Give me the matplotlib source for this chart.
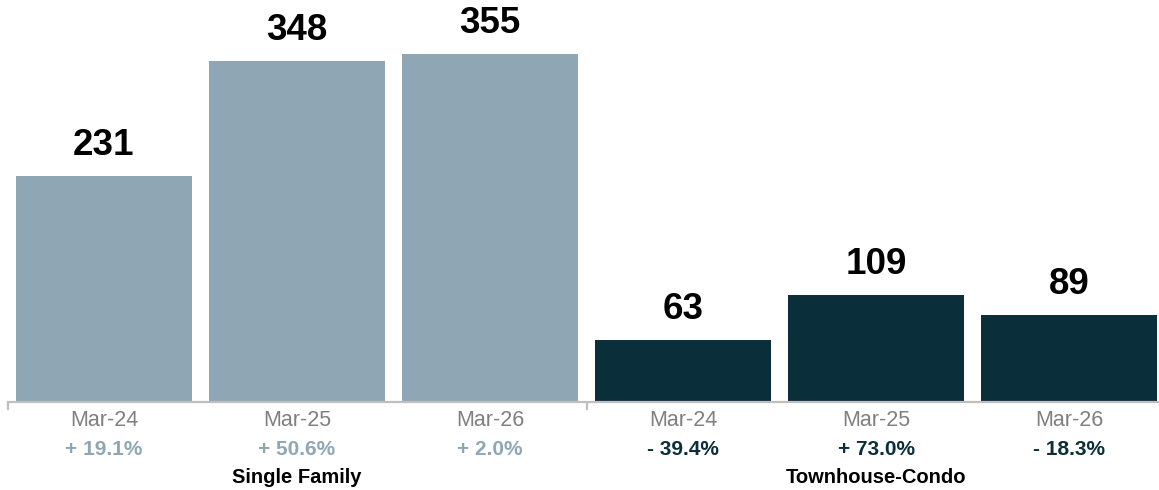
import matplotlib.pyplot as plt
from matplotlib.transforms import blended_transform_factory

plt.rcParams["font.family"] = ["Liberation Sans", "DejaVu Sans"]

# data
months = ["Mar-24", "Mar-25", "Mar-26", "Mar-24", "Mar-25", "Mar-26"]
values = [231, 348, 355, 63, 109, 89]
changes = ["+ 19.1%", "+ 50.6%", "+ 2.0%", "- 39.4%", "+ 73.0%", "- 18.3%"]
groups = ["Single Family", "Townhouse-Condo"]
group_of_bar = [0, 0, 0, 1, 1, 1]

LIGHT = "#8fa7b5"
DARK = "#0a2f3a"
AXIS_GREY = "#bfbfbf"
colors = [LIGHT, DARK]

W, H = 1159, 490
fig = plt.figure(figsize=(W / 100, H / 100), dpi=100)
# axes in pixel terms: baseline at y=402, slot 0 starts at x=7.5, pitch 193 px
left_px, base_px, pitch = 7.5, 402, 193
n = len(values)
ax = fig.add_axes([left_px / W, (H - base_px) / H, pitch * n / W, base_px / H])

x = list(range(n))
ax.bar(x, values, width=176 / 193,
       color=[colors[g] for g in group_of_bar], zorder=2)

ax.set_xlim(-0.5, n - 0.5)
ax.set_ylim(0, base_px / 0.98)

for s in ["top", "right", "left"]:
    ax.spines[s].set_visible(False)
ax.spines["bottom"].set_color(AXIS_GREY)
ax.spines["bottom"].set_linewidth(1.6)
ax.set_yticks([])
ax.set_xticks([-0.5, 2.5, 5.5])
ax.set_xticklabels([])
ax.tick_params(axis="x", length=6, width=1.6, color=AXIS_GREY)

trans = blended_transform_factory(ax.transData, ax.transAxes)
for i, (m, v, c, g) in enumerate(zip(months, values, changes, group_of_bar)):
    ax.annotate(str(v), (i, v), xytext=(0, 15), textcoords="offset points",
                ha="center", va="baseline", fontsize=26.5, fontweight="bold",
                color="black")
    ax.annotate(m, (i, 0), xycoords=trans, xytext=(0, -13.5),
                textcoords="offset points", ha="center", va="center",
                fontsize=15.5, color="#808080", annotation_clip=False)
    ax.annotate(c, (i, 0), xycoords=trans, xytext=(0, -34),
                textcoords="offset points", ha="center", va="center",
                fontsize=15, fontweight="bold", color=colors[g],
                annotation_clip=False)

for gi, name in enumerate(groups):
    ax.annotate(name, (gi * 3 + 1, 0), xycoords=trans, xytext=(0, -54.5),
                textcoords="offset points", ha="center", va="center",
                fontsize=14.5, fontweight="bold", color="black",
                annotation_clip=False)

fig.savefig("out.png", dpi=100)
